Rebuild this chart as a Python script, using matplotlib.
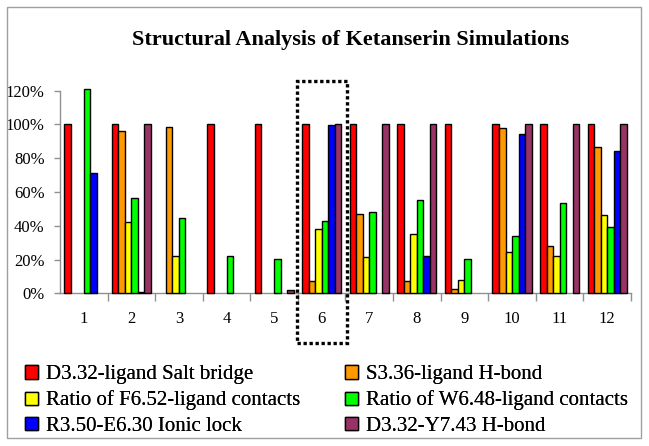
import numpy as np
import matplotlib.pyplot as plt
from matplotlib.patches import Rectangle, Patch

### DATA ###
groups = ['1', '2', '3', '4', '5', '6', '7', '8', '9', '10', '11', '12']
salt_bridge = [1.00, 1.00, 0.00, 1.00, 1.00, 1.00, 1.00, 1.00, 1.00, 1.00, 1.00, 1.00]
s336_hbond = [0.00, 0.964, 0.986, 0.00, 0.00, 0.073, 0.467, 0.073, 0.028, 0.978, 0.281, 0.869]
f652_contacts = [0.00, 0.422, 0.222, 0.00, 0.00, 0.378, 0.214, 0.349, 0.079, 0.244, 0.220, 0.461]
w648_contacts = [1.21, 0.562, 0.446, 0.222, 0.206, 0.430, 0.481, 0.554, 0.206, 0.341, 0.535, 0.392]
ionic_lock = [0.713, 0.010, 0.00, 0.00, 0.00, 0.994, 0.00, 0.222, 0.00, 0.945, 0.00, 0.840]
y743_hbond = [0.00, 1.00, 0.00, 0.00, 0.022, 1.00, 1.00, 1.00, 0.00, 1.00, 1.00, 1.00]

series = [salt_bridge, s336_hbond, f652_contacts, w648_contacts, ionic_lock, y743_hbond]
labels = ['D3.32-ligand Salt bridge', 'S3.36-ligand H-bond',
          'Ratio of F6.52-ligand contacts', 'Ratio of W6.48-ligand contacts',
          'R3.50-E6.30 Ionic lock', 'D3.32-Y7.43 H-bond']
colors = ['#FF0000', '#FF9900', '#FFFF00', '#00FF00', '#0000FF', '#993366']
yticks = [0, 0.2, 0.4, 0.6, 0.8, 1.0, 1.2]

plt.rcParams['font.family'] = ['Liberation Serif', 'DejaVu Serif']

W, H = 649, 446
fig = plt.figure(figsize=(W / 100, H / 100), dpi=100)
ax = fig.add_axes([60 / W, 1 - 293.3 / H, (631 - 60) / W, (293.3 - 90.7) / H])

### BARS ###
x = np.arange(len(groups))
width = 0.137
for i, (vals, col) in enumerate(zip(series, colors)):
    v = np.array(vals, dtype=float)
    keep = v > 0  # empty entries get no bar at all
    bars = ax.bar(x[keep] + (i - 2.5) * width, v[keep], width, color=col,
                  edgecolor='black', linewidth=1.0, zorder=3)
    for b in bars:
        b.set_clip_on(False)

ax.set_xlim(-0.5, len(groups) - 0.5)
ax.set_ylim(0, 1.2)
ax.set_yticks(yticks)
ax.set_yticklabels([f'{int(round(v * 100))}%' for v in yticks], fontsize=12)
ax.set_xticks(x)
ax.set_xticklabels(groups, fontsize=12)
ax.set_xticks(np.arange(0.5, len(groups), 1), minor=True)

for s in ['top', 'right']:
    ax.spines[s].set_visible(False)
for s in ['left', 'bottom']:
    ax.spines[s].set_color('#909090')
    ax.spines[s].set_linewidth(1.0)
ax.tick_params(axis='y', colors='#909090', length=4, width=1, pad=7, labelcolor='black')
ax.tick_params(axis='x', which='major', length=0, pad=13, labelcolor='black')
ax.tick_params(axis='x', which='minor', colors='#909090', length=6, width=1, direction='out')

### TITLE ###
fig.text(351 / W, 1 - 40 / H, 'Structural Analysis of Ketanserin Simulations',
         ha='center', va='center', fontsize=16, fontweight='bold')

### DOTTED BOX AROUND GROUP 6 ###
box = Rectangle((297 / W, 1 - 343 / H), (347 - 297) / W, (343 - 81) / H,
                transform=fig.transFigure, fill=False, edgecolor='black',
                linewidth=2.4, linestyle=(0, (1.0, 0.8)), zorder=10)
fig.patches.append(box)

### FIGURE BORDER ###
border = Rectangle((7 / W, 1 - 438 / H), (641 - 7) / W, (438 - 7) / H,
                   transform=fig.transFigure, fill=False, edgecolor='#A0A0A0',
                   linewidth=1.0)
fig.patches.append(border)

### LEGEND (two columns) ###
handles = [Patch(facecolor=c, edgecolor='black', linewidth=1.0) for c in colors]
col_x = [17 / W, 337 / W]
for k in range(2):
    leg = fig.legend(handles[k::2], labels[k::2], loc='upper left',
                     bbox_to_anchor=(col_x[k], 1 - 357 / H), frameon=False,
                     fontsize=15, handlelength=0.6, handleheight=0.6,
                     handletextpad=0.4, labelspacing=0.3, borderaxespad=0)
    fig.add_artist(leg)

fig.savefig('out.png', dpi=100)
